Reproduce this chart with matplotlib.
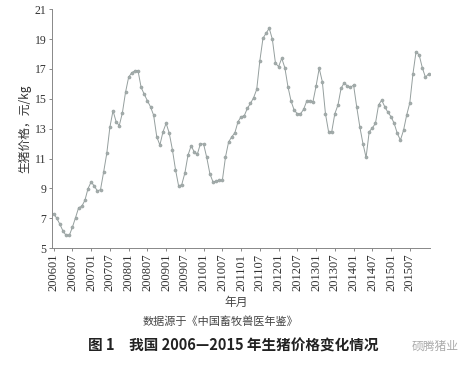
import numpy as np
import matplotlib.pyplot as plt

# monthly pig price, yuan/kg
prices = [7.31, 7.0, 6.6, 6.14, 5.85, 5.85, 6.4, 7.04, 7.71, 7.8,
          8.2, 8.99, 9.43, 9.16, 8.83, 8.92, 10.1, 11.34, 13.1, 14.2,
          13.46, 13.2, 14.06, 15.43, 16.44, 16.75, 16.86, 16.88, 15.76, 15.3,
          14.87, 14.46, 13.9, 12.46, 11.9, 12.79, 13.36, 12.7, 11.6, 10.26,
          9.16, 9.25, 10.03, 11.22, 11.85, 11.44, 11.3, 12.0, 11.96, 11.07,
          9.99, 9.43, 9.47, 9.54, 9.54, 11.1, 12.11, 12.45, 12.72, 13.46,
          13.8, 13.86, 14.36, 14.69, 15.07, 15.63, 17.55, 19.05, 19.39, 19.72,
          18.99, 17.38, 17.15, 17.71, 17.08, 15.8, 14.84, 14.23, 14.0, 13.98,
          14.29, 14.84, 14.84, 14.8, 15.85, 17.04, 16.14, 14.0, 12.79, 12.79,
          14.0, 14.58, 15.7, 16.07, 15.85, 15.76, 15.92, 14.46, 13.12, 12.0,
          11.07, 12.79, 13.05, 13.35, 14.58, 14.91, 14.46, 14.09, 13.8, 13.35,
          12.68, 12.23, 12.9, 13.91, 14.73, 16.66, 18.16, 17.93, 17.08, 16.44,
          16.66]
tick_labels = ["200601", "200607", "200701", "200707", "200801", "200807",
               "200901", "200907", "201001", "201007", "201101", "201107",
               "201201", "201207", "201301", "201307", "201401", "201407",
               "201501", "201507"]
y_ticks = [5, 7, 9, 11, 13, 15, 17, 19, 21]

serif = ['Liberation Serif', 'DejaVu Serif']
cjk = ['Noto Sans CJK SC', 'DejaVu Sans']

fig = plt.figure(figsize=(4.61, 3.66), dpi=100)
ax = fig.add_axes([0.113, 0.322, 0.82, 0.653])

x = np.arange(len(prices))
ax.plot(x, prices, color='#959f9e', lw=0.7, marker='o', ms=2.2,
        mfc='#a4adac', mec='#959f9e', mew=0.4)

ax.set_xlim(-0.5, 120.5)
ax.set_ylim(5, 21)
ax.set_xticks(np.arange(0, 6 * len(tick_labels), 6))
ax.set_xticklabels(tick_labels, rotation=90, family=serif, fontsize=9, color='#333333')
ax.set_yticks(y_ticks)
ax.set_yticklabels([str(v) for v in y_ticks], family=serif, fontsize=8.5, color='#333333')
ax.tick_params(axis='both', length=2.5, width=0.6, color='#777777', pad=1.5)

for s in ['top', 'right']:
    ax.spines[s].set_visible(False)
for s in ['left', 'bottom']:
    ax.spines[s].set_color('#888888')
    ax.spines[s].set_linewidth(0.7)

ax.set_ylabel("生猪价格，元/kg", family=cjk, fontsize=8.5, color='#333333', labelpad=2)

fig.text(0.512, 0.175, "年月", family=cjk, fontsize=8.5, color='#444444', ha='center', va='center')
fig.text(0.478, 0.122, "数据源于《中国畜牧兽医年鉴》", family=cjk, fontsize=8, color='#444444',
         ha='center', va='center')
fig.text(0.19, 0.055, "图 1　我国 2006—2015 年生猪价格变化情况", family=cjk, fontsize=10.5,
         fontweight='bold', color='#222222', ha='left', va='center')
fig.text(0.995, 0.055, "硕腾猪业", family=cjk, fontsize=8.5, color='#aaaaaa',
         ha='right', va='center')

fig.savefig("out.png", dpi=100, facecolor='white')
